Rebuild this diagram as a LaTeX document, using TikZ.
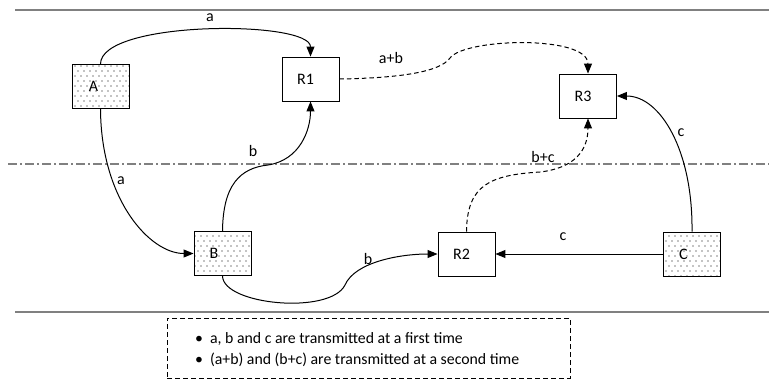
\documentclass[tikz,border=0pt]{standalone}
\usepackage{fontspec}
\setmainfont{Carlito}
\usetikzlibrary{arrows.meta,patterns.meta}
\tikzdeclarepattern{name=sparsedots,type=uncolored,bottom left={(-1pt,-1pt)},top right={(7pt,11pt)},tile size={(6pt,10pt)},code={\pgfpathcircle{\pgfpointorigin}{0.55pt}\pgfpathcircle{\pgfpoint{3pt}{5pt}}{0.55pt}\pgfusepath{fill}}}
\begin{document}
\begin{tikzpicture}[x=1pt,y=-1pt,
  box/.style={draw, minimum width=57pt, minimum height=44pt, inner sep=0pt, font=\fontsize{16}{18}\selectfont, line width=0.9pt},
  src/.style={box, pattern=sparsedots, pattern color=black},
  conn/.style={-{Triangle[length=10pt,width=8pt]}, line width=1pt},
  dconn/.style={conn, dash pattern=on 4.5pt off 3pt},
  lbl/.style={font=\fontsize{16}{18}\selectfont, inner sep=0pt},
  sep/.style={draw=gray, line width=1.4pt},
  legtext/.style={font=\fontsize{15.8}{18}\selectfont, inner sep=0pt, anchor=west}]
\useasboundingbox (0,0) rectangle (769,381);
% separator lines
\coordinate (t1) at (15,10); \coordinate (t2) at (769,10);
\coordinate (m1) at (8,164); \coordinate (m2) at (769,164);
\coordinate (b1) at (15,312); \coordinate (b2) at (769,312);
\draw[sep] (t1) -- (t2);
\draw[sep, dash pattern=on 9pt off 3pt on 2pt off 3pt] (m1) -- (m2);
\draw[sep] (b1) -- (b2);
% nodes
\node[src] (A) at (100.5,86.5) {\hspace*{-14pt}A};
\node[box] (R1) at (310.5,79) {\hspace*{-10pt}R1};
\node[box] (R3) at (588,96) {\hspace*{-10pt}R3};
\node[src] (B) at (222.5,253.5) {\hspace*{-17pt}B};
\node[box] (R2) at (466.5,254) {\hspace*{-10pt}R2};
\node[src] (C) at (692,254) {\hspace*{-17pt}C};
% connectors
\draw[conn] (A.north) .. controls (100.5,20) and (310.5,20) .. (R1.north);
\draw[conn] (A.south) .. controls (101,200) and (150,253.5) .. (B.west);
\draw[conn] (B.north) .. controls (223,185) and (240,168) .. (268,165) .. controls (300,160) and (310.5,130) .. (R1.south);
\draw[conn] (B.south) .. controls (223,305) and (330,315) .. (345,285) .. controls (355,262) and (400,254) .. (R2.west);
\draw[dconn] (R1.east) .. controls (400,78) and (440,72) .. (450,58) .. controls (465,38) and (588,35) .. (R3.north);
\draw[dconn] (R2.north) .. controls (467,185) and (490,175) .. (540,172) .. controls (575,168) and (588,150) .. (R3.south);
\draw[conn] (C.west) -- (R2.east);
\draw[conn] (C.north) .. controls (693,150) and (660,96) .. (R3.east);
% labels
\node[lbl] (la1) at (210,18) {a};
\node[lbl] (la2) at (121,181) {a};
\node[lbl] (lb1) at (253,151) {b};
\node[lbl] (lb2) at (368,259) {b};
\node[lbl] (lab) at (391,58) {a+b};
\node[lbl] (lbc) at (543,157) {b+c};
\node[lbl] (lc1) at (563,237) {c};
\node[lbl] (lc2) at (681,133) {c};
% legend
\node[draw, dash pattern=on 5pt off 3pt, line width=0.9pt, minimum width=403pt, minimum height=60pt, inner sep=0pt] (legend) at (368.5,348) {};
\node[legtext] (leg1) at (195,339) {\textbullet\hspace{7pt}a, b and c are transmitted at a first time};
\node[legtext] (leg2) at (195,360) {\textbullet\hspace{7pt}(a+b) and (b+c) are transmitted at a second time};
\end{tikzpicture}
\end{document}
